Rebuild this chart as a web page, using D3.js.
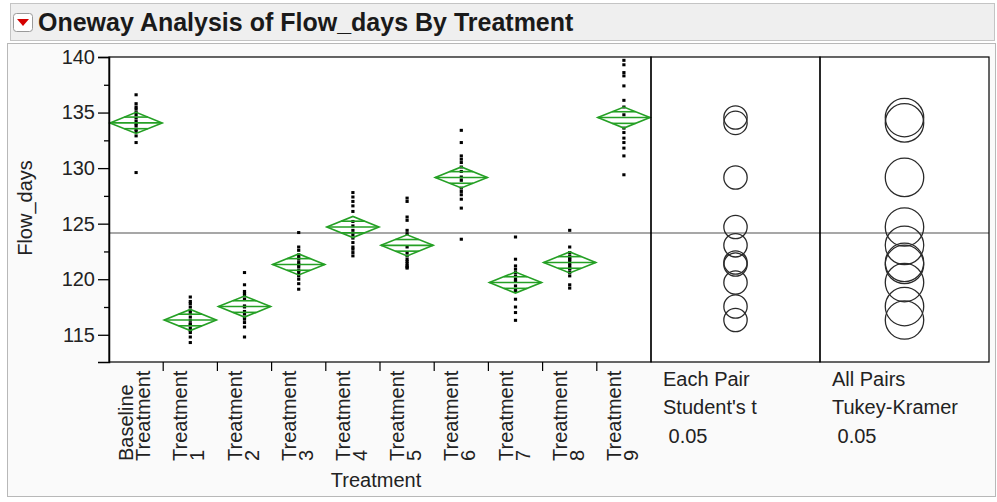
<!DOCTYPE html>
<html>
<head>
<meta charset="utf-8">
<script src="https://cdn.jsdelivr.net/npm/d3@7"></script>
<style>
  html, body { margin: 0; padding: 0; background: #ffffff; }
  svg { display: block; font-family: "Liberation Sans", Arial, sans-serif; }
</style>
</head>
<body>
<svg id="chart" width="997" height="502"></svg>
<script>
// ---------- data ----------
const categories = ["Baseline Treatment", "Treatment 1", "Treatment 2", "Treatment 3", "Treatment 4",
                    "Treatment 5", "Treatment 6", "Treatment 7", "Treatment 8", "Treatment 9"];

const baseline = [136.6, 135.8, 135.5, 135.3, 135.0, 134.8, 134.5, 134.2, 134.0, 133.8, 133.5, 133.3, 132.9, 132.3, 129.6];
const t1 = [118.4, 118.0, 117.8, 117.5, 117.2, 117.0, 116.6, 116.3, 116.0, 115.9, 115.6, 115.4, 115.2, 114.8, 114.3];
const t2 = [120.6, 119.5, 118.9, 118.7, 118.5, 118.2, 117.6, 117.5, 117.1, 116.9, 116.6, 116.4, 116.1, 115.7, 114.8];
const t3 = [124.2, 122.9, 122.6, 122.2, 122.0, 121.8, 121.5, 121.3, 121.1, 120.8, 120.6, 120.3, 120.0, 119.6, 119.1];
const t4 = [127.8, 127.4, 127.0, 126.6, 126.1, 125.2, 124.8, 124.4, 124.0, 123.7, 123.3, 122.9, 122.7, 122.4, 122.1];
const t5 = [127.3, 127.0, 125.6, 125.3, 124.4, 124.1, 122.9, 122.4, 122.1, 121.8, 121.6, 121.4, 121.2, 121.1, 121.0];
const t6 = [133.4, 132.3, 131.1, 130.8, 130.5, 130.1, 129.7, 129.2, 128.9, 128.2, 127.9, 127.6, 127.2, 126.4, 123.6];
const t7 = [123.8, 121.8, 121.2, 120.9, 120.6, 120.3, 120.0, 119.8, 119.4, 119.0, 118.9, 118.2, 117.5, 117.0, 116.3];
const t8 = [124.4, 122.9, 122.4, 122.1, 121.9, 121.8, 121.6, 121.4, 121.2, 121.0, 120.9, 120.6, 120.3, 119.5, 119.2];
const t9 = [139.7, 139.3, 138.6, 138.3, 137.4, 136.1, 135.5, 134.8, 133.6, 133.2, 132.7, 132.3, 131.8, 131.1, 129.4];

const groupMeans = [134.07, 116.33, 117.54, 121.33, 124.70, 123.05, 129.16, 119.70, 121.51, 134.55];
const ciHalfWidth = [0.95, 0.95, 0.95, 0.95, 0.95, 0.95, 0.95, 0.95, 0.95, 0.95];
const studentRadius = 1.05;   // comparison circle radius, Each Pair Student's t
const tukeyRadius = 1.73;     // comparison circle radius, All Pairs Tukey-Kramer
const grandMean = 124.16;
const yTicks = [115, 120, 125, 130, 135, 140];
const yMinorTicks = [112.5, 117.5, 122.5, 127.5, 132.5, 137.5];
const panelLabels1 = ["Each Pair", "Student's t", " 0.05"];
const panelLabels2 = ["All Pairs", "Tukey-Kramer", " 0.05"];

const groups = [baseline, t1, t2, t3, t4, t5, t6, t7, t8, t9];

// ---------- layout ----------
const svg = d3.select("#chart");
const plotTop = 57, plotBottom = 362, plotLeft = 109, plotRight = 651;
const p2Left = 651, p2Right = 820, p3Left = 820, p3Right = 989;
const textColor = "#222";
const green = "#25a025";

// outer frames
svg.append("rect").attr("x", 10.5).attr("y", 3.5).attr("width", 984).attr("height", 37)
  .attr("fill", "#efefef").attr("stroke", "#c4c4c4");
svg.append("rect").attr("x", 7.5).attr("y", 43.5).attr("width", 988).attr("height", 453)
  .attr("fill", "#fafafa").attr("stroke", "#b8b8b8");

// title icon
svg.append("rect").attr("x", 13.5).attr("y", 13.5).attr("width", 19).attr("height", 18).attr("rx", 3)
  .attr("fill", "#ffffff").attr("stroke", "#9a9a9a");
svg.append("path").attr("d", "M17,19 L29,19 L23,26 Z").attr("fill", "#d40000");
svg.append("text").attr("x", 38).attr("y", 31)
  .attr("font-size", 25).attr("font-weight", "bold").attr("fill", "#1a1a1a")
  .text("Oneway Analysis of Flow_days By Treatment");

// scales
const y = d3.scaleLinear().domain([112.55, 140]).range([plotBottom, plotTop]);
const x = d3.scaleBand().domain(categories).range([plotLeft, plotRight]);
const bw = x.bandwidth();

// plot backgrounds
svg.append("rect").attr("x", plotLeft).attr("y", plotTop).attr("width", p3Right - plotLeft)
  .attr("height", plotBottom - plotTop).attr("fill", "#ffffff");

// grand mean line
svg.append("line").attr("x1", plotLeft).attr("x2", p3Right)
  .attr("y1", y(grandMean)).attr("y2", y(grandMean))
  .attr("stroke", "#8a8a8a").attr("stroke-width", 1.5);

// points
const pts = [];
groups.forEach((g, i) => g.forEach(v => pts.push({ c: categories[i], v })));
svg.append("g").selectAll("rect").data(pts).join("rect")
  .attr("x", d => x(d.c) + bw / 2 - 1.6)
  .attr("y", d => y(d.v) - 1.5)
  .attr("width", 3.2).attr("height", 3).attr("fill", "#000");

// means diamonds
const dg = svg.append("g").attr("fill", "none").attr("stroke", green).attr("stroke-width", 1.6);
categories.forEach((c, i) => {
  const x0 = x(c) + 1, x1 = x(c) + bw - 1, xc = x(c) + bw / 2;
  const m = groupMeans[i], h = ciHalfWidth[i];
  const ym = y(m), yt = y(m + h), yb = y(m - h);
  dg.append("path").attr("d", `M${x0},${ym} L${xc},${yt} L${x1},${ym} L${xc},${yb} Z`);
  dg.append("line").attr("x1", x0).attr("x2", x1).attr("y1", ym).attr("y2", ym);
  // overlap marks
  const f = 0.55;
  [m + h * f, m - h * f].forEach(v => {
    const half = (1 - f) * (x1 - x0) / 2;
    dg.append("line").attr("x1", xc - half).attr("x2", xc + half)
      .attr("y1", y(v)).attr("y2", y(v));
  });
});

// comparison circles
const pxPerUnit = y(0) - y(1);
const cg = svg.append("g").attr("fill", "none").attr("stroke", "#2a2a2a").attr("stroke-width", 1.3);
cg.selectAll("circle.s").data(groupMeans).join("circle").attr("class", "s")
  .attr("cx", (p2Left + p2Right) / 2).attr("cy", d => y(d)).attr("r", studentRadius * pxPerUnit);
cg.selectAll("circle.t").data(groupMeans).join("circle").attr("class", "t")
  .attr("cx", (p3Left + p3Right) / 2).attr("cy", d => y(d)).attr("r", tukeyRadius * pxPerUnit);

// frames
const fg = svg.append("g").attr("fill", "none").attr("stroke", "#000").attr("stroke-width", 1.2);
fg.append("rect").attr("x", plotLeft).attr("y", plotTop).attr("width", plotRight - plotLeft).attr("height", plotBottom - plotTop);
fg.append("rect").attr("x", p2Left).attr("y", plotTop).attr("width", p2Right - p2Left).attr("height", plotBottom - plotTop);
fg.append("rect").attr("x", p3Left).attr("y", plotTop).attr("width", p3Right - p3Left).attr("height", plotBottom - plotTop);

// y axis
const yAxis = svg.append("g").attr("transform", `translate(${plotLeft},0)`)
  .call(d3.axisLeft(y).tickValues(yTicks).tickSize(11).tickPadding(3).tickFormat(d3.format("d")));
yAxis.select(".domain").attr("stroke", "#000").attr("stroke-width", 1.5);
yAxis.selectAll(".tick line").attr("stroke", "#000").attr("stroke-width", 1.3);
yAxis.selectAll("text").attr("font-size", 20).attr("fill", textColor).attr("font-family", "Liberation Sans, Arial, sans-serif");
const yMinor = svg.append("g").attr("transform", `translate(${plotLeft},0)`)
  .call(d3.axisLeft(y).tickValues(yMinorTicks.filter(v => v > 112.55)).tickSize(5).tickFormat(""));
yMinor.select(".domain").remove();
yMinor.selectAll(".tick line").attr("stroke", "#000").attr("stroke-width", 1.3);

// x axis ticks at category boundaries
const boundaries = categories.slice(1).map(c => x(c));
svg.append("g").selectAll("line").data(boundaries).join("line")
  .attr("x1", d => d).attr("x2", d => d).attr("y1", plotBottom).attr("y2", plotBottom + 9)
  .attr("stroke", "#000").attr("stroke-width", 1.2);

// x category labels (rotated, two lines)
const lg = svg.append("g").attr("font-size", 20).attr("fill", textColor);
categories.forEach(c => {
  const lines = c.split(" ");
  const xc = x(c) + bw / 2;
  lines.forEach((t, j) => {
    const bx = xc - 3 + j * 17;
    lg.append("text").attr("transform", `translate(${bx},461) rotate(-90)`)
      .attr("text-anchor", "start").text(t);
  });
});

// axis titles
svg.append("text").attr("x", 376).attr("y", 487).attr("text-anchor", "middle")
  .attr("font-size", 20).attr("fill", textColor).text("Treatment");
svg.append("text").attr("transform", "translate(32,208) rotate(-90)").attr("text-anchor", "middle")
  .attr("font-size", 20).attr("fill", textColor).text("Flow_days");

// comparison panel labels
const rows = [386, 414, 443];
panelLabels1.forEach((t, i) => svg.append("text").attr("x", 663).attr("y", rows[i])
  .attr("font-size", 20).attr("fill", textColor).attr("xml:space", "preserve").text(t));
panelLabels2.forEach((t, i) => svg.append("text").attr("x", 832).attr("y", rows[i])
  .attr("font-size", 20).attr("fill", textColor).attr("xml:space", "preserve").text(t));
</script>
</body>
</html>
